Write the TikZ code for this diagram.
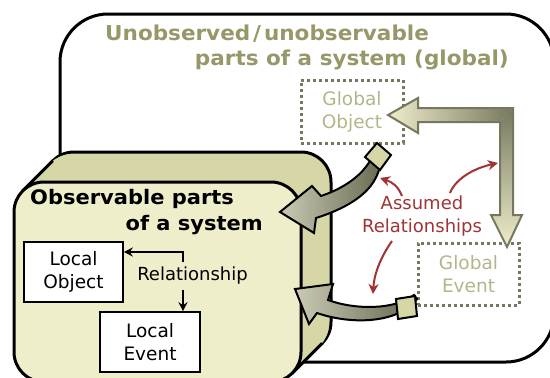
\documentclass[tikz,border=0pt]{standalone}
\usepackage{fontspec}
\setmainfont{DejaVu Sans}
\newfontfamily\ttlfont{DejaVu Sans}[FakeStretch=1.05]
\usetikzlibrary{arrows.meta,calc}
\definecolor{oliveL}{HTML}{EEEECA}
\definecolor{oliveM}{HTML}{D6D6A6}
\definecolor{arrL}{HTML}{CBCBB5}
\definecolor{arrD}{HTML}{66664F}
\definecolor{bigL}{HTML}{EEEECC}
\definecolor{bigD}{HTML}{77775F}
\definecolor{dotcol}{HTML}{77775F}
\definecolor{titlecol}{HTML}{97976A}
\definecolor{globcol}{HTML}{B5B58A}
\definecolor{redc}{HTML}{A03434}
\tikzset{
  lbox/.style={draw, line width=1.6pt, fill=white, minimum width=99pt, minimum height=60pt, inner sep=0pt, align=center, font=\fontsize{18.5}{23}\selectfont},
  gbox/.style={draw=dotcol, line width=3pt, dash pattern=on 3pt off 3pt, inner sep=0pt, align=center, text=globcol, font=\fontsize{18.5}{23}\selectfont},
  ttl/.style={font=\fontsize{20}{24}\selectfont\ttlfont\bfseries, inner sep=0pt},
  gttl/.style={font=\fontsize{20.5}{24}\selectfont\ttlfont\bfseries, inner sep=0pt, text=titlecol},
  plain/.style={font=\fontsize{18}{23}\selectfont, inner sep=0pt, align=center},
  redarrow/.style={draw=redc, line width=2pt, -{Stealth[length=10pt,width=10pt,inset=3pt]}},
  localarrow/.style={line width=1.5pt, -{Stealth[length=9pt,width=9pt,inset=3pt]}},
  fatarrow/.style={draw=black, line width=2pt, line join=miter, left color=arrL, right color=arrD},
  tailsq/.style={draw=black, line width=2pt, fill=oliveM, line join=miter},
}
\begin{document}
\begin{tikzpicture}[x=1pt,y=-1pt]
\useasboundingbox (0,0) rectangle (550,378);
\clip (0,0) rectangle (550,378);
% outer global region
\draw[line width=3pt, fill=white, rounded corners=48pt] (60,14) rectangle (554,362);
\node[gttl, anchor=base west] (t1) at (105,40) {Unobserved\kern3pt/\kern3pt unobservable};
\node[gttl, anchor=base east] (t2) at (509,65) {parts of a system (global)};
% observable box (extruded)
\draw[line width=3pt, fill=oliveM, rounded corners=30pt] (44,152) rectangle (331,352);
\foreach \i in {2,...,29} {
  \fill[oliveM, rounded corners=30pt, shift={(-\i,\i)}] (44,152) rectangle (331,352);
}
\draw[line width=3pt] (22.8,190.8) -- (52.8,160.8);
\draw[line width=3pt] (292.2,373.2) -- (322.2,343.2);
\draw[line width=3pt, fill=oliveL, rounded corners=30pt] (14,182) rectangle (301,382);
\node[ttl, anchor=base west] (o1) at (30,204) {Observable parts};
\node[ttl, anchor=base east] (o2) at (263,230) {of a system};
% local boxes
\node[lbox] (lobj) at (73.5,272) {Local\\Object};
\node[lbox, minimum width=100pt, minimum height=60pt] (levt) at (150,342) {Local\\Event};
\node[plain, anchor=base] (rel) at (192.5,280) {Relationship};
\coordinate (ra) at (183,262);
\coordinate (rb) at (183,290);
\draw[localarrow] (ra) |- ([yshift=20pt]lobj.east);
\draw[localarrow] (rb) -- (levt.north -| rb);
% global boxes
\node[gbox, minimum width=102pt, minimum height=63pt] (gobj) at (352,111.5) {Global\\Object};
\node[gbox, minimum width=101pt, minimum height=62pt] (gevt) at (468.5,274) {Global\\Event};
% big L arrow
\shade[left color=bigL, right color=bigD] (388,115) -- (418,98) -- (418,108) -- (513,108) -- (500,122) -- (418,122) -- (418,133) -- cycle;
\shade[top color=bigD, bottom color=bigL] (513,108) -- (513,215) -- (522,215) -- (507,247) -- (491,215) -- (500,215) -- (500,122) -- cycle;
\draw[draw=dotcol, line width=2pt, line join=miter] (388,115) -- (418,98) -- (418,108) -- (513,108) -- (513,215) -- (522,215) -- (507,247) -- (491,215) -- (500,215) -- (500,122) -- (418,122) -- (418,133) -- cycle;
% assumed relationships
\node[plain, text=redc] (ass) at (422,216.5) {Assumed\\Relationships};
\coordinate (a1s) at (402,196);
\coordinate (a1e) at (380,178);
\coordinate (a2s) at (450,193);
\coordinate (a2e) at (498,163);
\coordinate (a3s) at (392,241);
\coordinate (a3e) at (373,294);
\draw[redarrow] (a1s) .. controls (398,186) and (392,182) .. (a1e);
\draw[redarrow] (a2s) .. controls (456,178) and (475,168) .. (a2e);
\draw[redarrow] (a3s) .. controls (380,258) and (374,275) .. (a3e);
% fat curved arrows
\draw[fatarrow] (280,212) -- (312,186) -- (321,196) .. controls (345,188) and (370,172) .. (376,146) -- (380,147) .. controls (386,182) and (360,204) .. (316,218) -- (314,233) -- cycle;
\draw[tailsq] (365,157) -- (377,143) -- (391,155) -- (380,170) -- cycle;
\draw[fatarrow] (295,289) -- (333,284) -- (328,300) .. controls (355,310) and (395,310) .. (414,295) -- (417,299) .. controls (400,322) and (355,326) .. (317,313) -- (309,324) -- cycle;
\draw[tailsq] (396,299) -- (415,296) -- (417,316) -- (398,319) -- cycle;
\end{tikzpicture}
\end{document}
